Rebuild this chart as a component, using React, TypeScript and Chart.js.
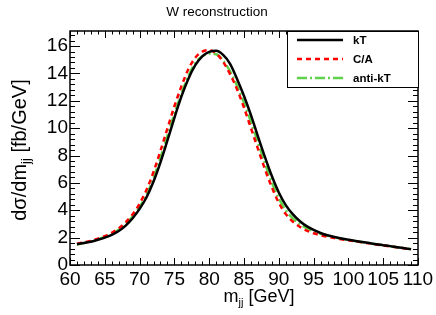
import { useEffect, useRef } from "react";
import { Chart, registerables } from "chart.js";

Chart.register(...registerables);

const chartTitle = "W reconstruction";
const seriesNames = ["kT", "C/A", "anti-kT"];
const seriesColors = ["#000000", "#ff0000", "#5ed24a"];

const masses = [
  61, 62, 63, 64, 65, 66, 67, 68, 69, 70, 71, 72, 73, 74, 75, 76, 77, 78, 79, 80,
  81, 82, 83, 84, 85, 86, 87, 88, 89, 90, 91, 92, 93, 94, 95, 96, 97, 98, 99, 100,
  101, 102, 103, 104, 105, 106, 107, 108, 109,
];

const kT = [
  1.52, 1.6, 1.7, 1.84, 2.0, 2.2, 2.48, 2.88, 3.42, 4.1, 4.95, 6.1, 7.5, 9.1, 10.75, 12.3, 13.6, 14.6, 15.25, 15.58,
  15.65, 15.35, 14.7, 13.6, 12.35, 10.95, 9.4, 7.9, 6.5, 5.3, 4.38, 3.72, 3.22, 2.84, 2.56, 2.34, 2.17, 2.04, 1.93, 1.84,
  1.76, 1.68, 1.6, 1.52, 1.45, 1.38, 1.3, 1.23, 1.16,
];

const cA = [
  1.56, 1.65, 1.77, 1.92, 2.1, 2.35, 2.68, 3.12, 3.7, 4.48, 5.5, 6.8, 8.35, 9.98, 11.6, 13.05, 14.3, 15.15, 15.6, 15.7,
  15.45, 14.85, 13.95, 12.85, 11.5, 10.0, 8.5, 7.02, 5.68, 4.55, 3.72, 3.18, 2.8, 2.52, 2.32, 2.18, 2.07, 1.97, 1.88, 1.8,
  1.73, 1.65, 1.58, 1.5, 1.43, 1.36, 1.29, 1.22, 1.15,
];

const antiKT = [
  1.5, 1.6, 1.72, 1.87, 2.05, 2.27, 2.58, 3.0, 3.55, 4.25, 5.15, 6.35, 7.85, 9.45, 11.05, 12.5, 13.8, 14.75, 15.25, 15.45,
  15.4, 14.95, 14.15, 13.1, 11.85, 10.45, 8.95, 7.45, 6.05, 4.88, 4.0, 3.42, 3.0, 2.7, 2.46, 2.28, 2.14, 2.02, 1.92, 1.83,
  1.75, 1.67, 1.59, 1.51, 1.44, 1.37, 1.3, 1.23, 1.16,
];

const xTicks = [60, 65, 70, 75, 80, 85, 90, 95, 100, 105, 110];
const yTicks = [0, 2, 4, 6, 8, 10, 12, 14, 16];
const xRange = [60, 110];
const yRange = [0, 17.1];

const FONT = '"Liberation Sans", Arial, Helvetica, sans-serif';

function drawSubText(
  ctx: CanvasRenderingContext2D,
  parts: { t: string; sub?: boolean }[],
  size: number,
  subSize: number,
  subShift: number,
  cx: number,
  baseY: number
) {
  let total = 0;
  for (const p of parts) {
    ctx.font = `${p.sub ? subSize : size}px ${FONT}`;
    total += ctx.measureText(p.t).width;
  }
  let x = cx - total / 2;
  ctx.textAlign = "left";
  ctx.textBaseline = "alphabetic";
  for (const p of parts) {
    ctx.font = `${p.sub ? subSize : size}px ${FONT}`;
    ctx.fillText(p.t, x, baseY + (p.sub ? subShift : 0));
    x += ctx.measureText(p.t).width;
  }
}

const framePlugin = {
  id: "rootFrame",
  afterDatasetsDraw(chart: any) {
    const { ctx, chartArea: a, scales } = chart;
    const xs = scales.x;
    const ys = scales.y;
    ctx.save();
    ctx.strokeStyle = "#000";
    ctx.lineWidth = 1;
    ctx.beginPath();
    for (let v = xRange[0]; v <= xRange[1]; v += 1) {
      const px = Math.round(xs.getPixelForValue(v)) + 0.5;
      const len = v % 5 === 0 ? 7 : 3.5;
      ctx.moveTo(px, a.bottom);
      ctx.lineTo(px, a.bottom - len);
      ctx.moveTo(px, a.top);
      ctx.lineTo(px, a.top + len);
    }
    for (let i = 0; i * 0.4 <= yRange[1] + 1e-9; i++) {
      const v = i * 0.4;
      const py = Math.round(ys.getPixelForValue(v)) + 0.5;
      const len = i % 5 === 0 ? 10 : 5;
      ctx.moveTo(a.left, py);
      ctx.lineTo(a.left + len, py);
      ctx.moveTo(a.right, py);
      ctx.lineTo(a.right - len, py);
    }
    ctx.stroke();

    ctx.lineWidth = 1.5;
    ctx.strokeRect(a.left, a.top, a.right - a.left, a.bottom - a.top);

    // legend box
    const lx = 287;
    const ly = a.top;
    const lw = a.right - lx;
    const lh = 56;
    ctx.fillStyle = "#fff";
    ctx.fillRect(lx, ly, lw, lh);
    ctx.lineWidth = 1;
    ctx.strokeStyle = "#000";
    ctx.strokeRect(lx + 0.5, ly + 0.5, lw, lh);
    const dashes = [[], [5, 4], [10, 3, 2, 3]];
    const rows = [40, 59, 78];
    seriesNames.forEach((name, i) => {
      ctx.beginPath();
      ctx.strokeStyle = seriesColors[i];
      ctx.lineWidth = 2.5;
      ctx.setLineDash(dashes[i]);
      ctx.moveTo(297, rows[i]);
      ctx.lineTo(343, rows[i]);
      ctx.stroke();
      ctx.setLineDash([]);
      ctx.fillStyle = "#000";
      ctx.font = `bold 11.5px ${FONT}`;
      ctx.textAlign = "left";
      ctx.textBaseline = "middle";
      ctx.fillText(name, 353, rows[i] + 0.5);
    });

    // title
    ctx.fillStyle = "#000";
    ctx.font = `13.5px ${FONT}`;
    ctx.textAlign = "center";
    ctx.textBaseline = "alphabetic";
    ctx.fillText(chartTitle, 217, 15.5);

    // x axis title
    drawSubText(
      ctx,
      [{ t: "m" }, { t: "jj", sub: true }, { t: " [GeV]" }],
      18,
      11,
      4,
      259,
      302
    );

    // y axis title
    ctx.save();
    ctx.translate(26, (a.top + a.bottom) / 2 + 2);
    ctx.rotate(-Math.PI / 2);
    drawSubText(
      ctx,
      [{ t: "d\u03c3/dm" }, { t: "jj", sub: true }, { t: " [fb/GeV]" }],
      20,
      13,
      4,
      0,
      0
    );
    ctx.restore();
    ctx.restore();
  },
};

export default function App() {
  const ref = useRef<HTMLCanvasElement | null>(null);

  useEffect(() => {
    document.body.style.margin = "0";
    const canvas = ref.current!;
    const mk = (vals: number[]) => masses.map((m, i) => ({ x: m, y: vals[i] }));
    const allSeries = [kT, cA, antiKT];
    const dashes = [[], [5, 4], [10, 3, 2, 3]];
    const chart = new Chart(canvas, {
      type: "line",
      data: {
        datasets: allSeries.map((vals, i) => ({
          label: seriesNames[i],
          data: mk(vals),
          borderColor: seriesColors[i],
          borderWidth: 2.5,
          borderDash: dashes[i],
          pointRadius: 0,
          fill: false,
          cubicInterpolationMode: "monotone" as const,
        })),
      },
      options: {
        animation: false,
        responsive: false,
        maintainAspectRatio: false,
        devicePixelRatio: 1,
        layout: { padding: { top: 31, right: 18, left: 0, bottom: 0 } },
        plugins: { legend: { display: false }, title: { display: false }, tooltip: { enabled: false } },
        scales: {
          x: {
            type: "linear",
            min: xRange[0],
            max: xRange[1],
            grid: { display: false, drawTicks: false },
            border: { display: false },
            ticks: {
              autoSkip: false,
              maxRotation: 0,
              minRotation: 0,
              padding: 3,
              color: "#000",
              font: { family: FONT, size: 19 },
            },
            afterBuildTicks: (s: any) => {
              s.ticks = xTicks.map((v) => ({ value: v }));
            },
            afterFit: (s: any) => {
              s.height = 50;
              s.paddingLeft = 0;
              s.paddingRight = 0;
            },
          },
          y: {
            type: "linear",
            min: yRange[0],
            max: yRange[1],
            grid: { display: false, drawTicks: false },
            border: { display: false },
            ticks: {
              autoSkip: false,
              padding: 2,
              color: "#000",
              font: { family: FONT, size: 19 },
            },
            afterBuildTicks: (s: any) => {
              s.ticks = yTicks.map((v) => ({ value: v }));
            },
            afterFit: (s: any) => {
              s.width = 70;
              s.paddingTop = 0;
              s.paddingBottom = 0;
            },
          },
        },
      },
      plugins: [framePlugin],
    });
    return () => chart.destroy();
  }, []);

  return <canvas ref={ref} width={436} height={315} style={{ display: "block" }} />;
}
